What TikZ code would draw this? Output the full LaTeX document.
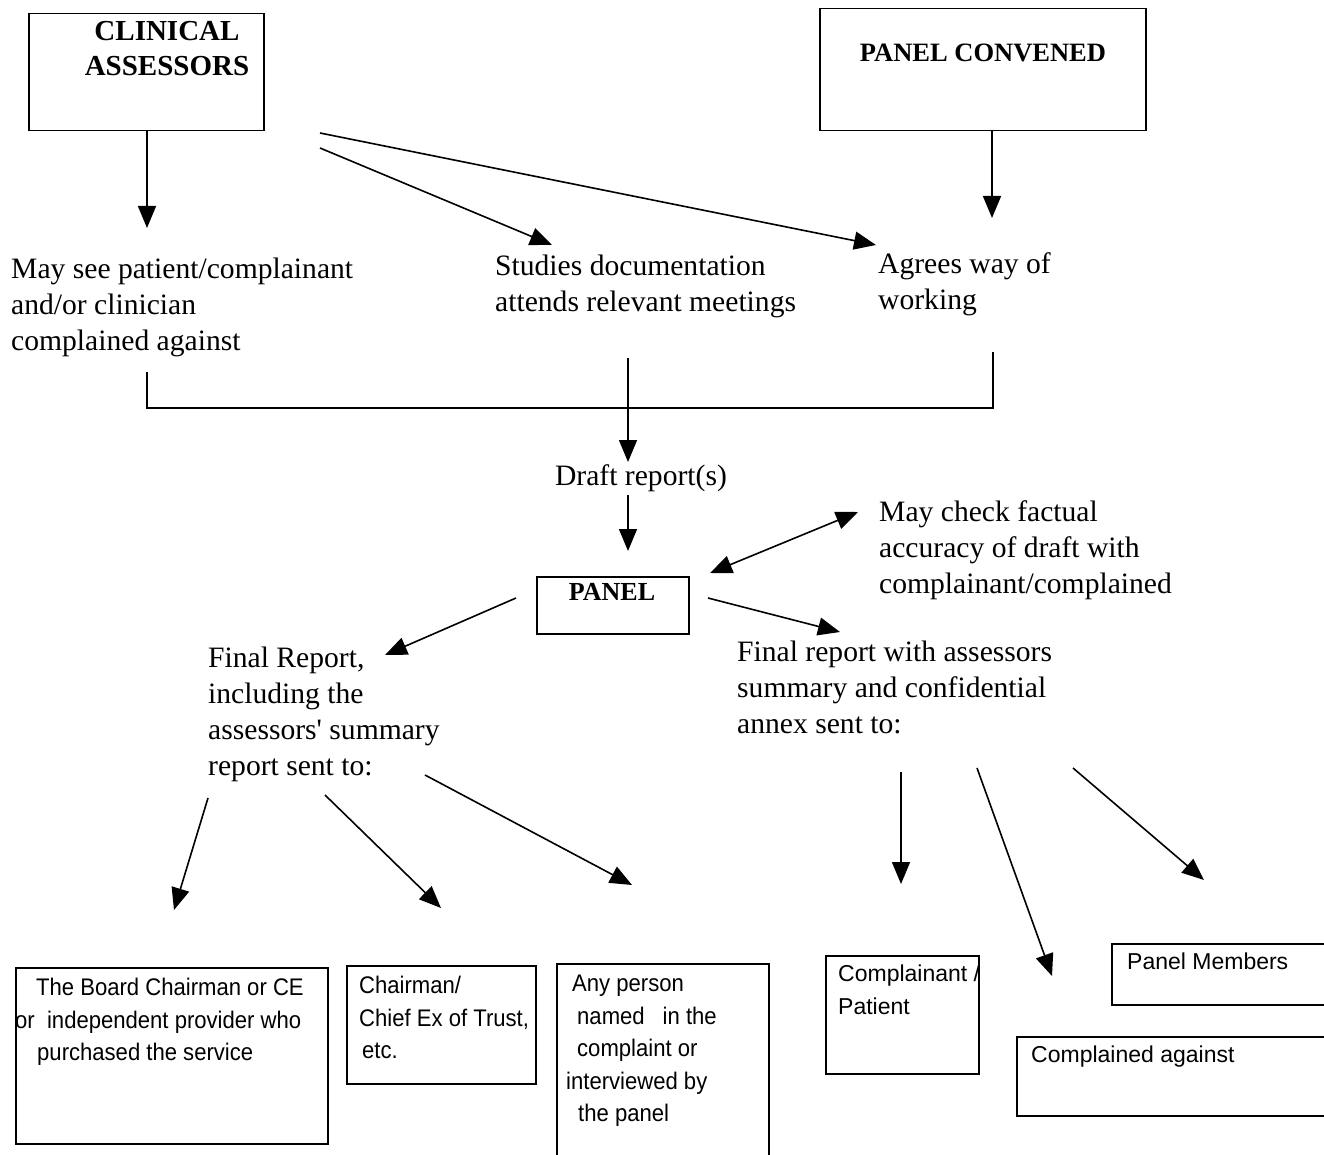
\documentclass[tikz,border=0pt]{standalone}
\usepackage{fontspec}
\setmainfont{Liberation Serif}
\newfontfamily\narrowsans[FakeStretch=0.92]{Liberation Sans}
\newfontfamily\plainsans{Liberation Sans}
\usetikzlibrary{arrows.meta,calc}

\begin{document}
\begin{tikzpicture}[x=1pt,y=-1pt,
  frame/.style={draw,line width=1.5pt,inner sep=0pt,anchor=north west},
  arr/.style={line width=1.6pt,-{Triangle[length=22pt,width=18pt]}},
  biarr/.style={line width=1.6pt,{Triangle[length=22pt,width=18pt]}-{Triangle[length=22pt,width=18pt]}},
  link/.style={line width=1.6pt},
  body/.style={font=\fontsize{29.6}{36}\selectfont,align=left,anchor=north west,inner sep=0pt},
  head/.style={font=\fontsize{29}{35}\bfseries\selectfont,align=center,anchor=north,inner sep=0pt},
  boxtext/.style={font=\narrowsans\fontsize{24}{32.5}\selectfont,align=left,anchor=north west,inner sep=0pt},
  boxtextb/.style={font=\plainsans\fontsize{23}{33}\selectfont,align=left,anchor=north west,inner sep=0pt}
]
\useasboundingbox (0,0) rectangle (1324,1155);

% ---- top boxes ----
\node[frame,minimum width=235pt,minimum height=117pt] (clin) at (28,13) {};
\node[head] (clintext) at (167,21) {CLINICAL\\ASSESSORS};
\node[frame,minimum width=326pt,minimum height=122pt] (conv) at (819,8) {};
\node[head,font=\fontsize{26.5}{30}\bfseries\selectfont] (convtext) at (983,44) {PANEL CONVENED};

% ---- first level of activities ----
\node[body] (see) at (11,258) {May see patient/complainant\\and/or clinician\\complained against};
\node[body] (study) at (495,255) {Studies documentation\\attends relevant meetings};
\node[body] (agree) at (878,252) {Agrees way of\\working};

\coordinate (clinA) at (147,130);
\coordinate (seeT) at (147,228);
\coordinate (clinB) at (320,148);
\coordinate (studyT) at (552,245);
\coordinate (clinC) at (320,133);
\coordinate (agreeT) at (876,245);
\coordinate (convA) at (992,130);
\coordinate (convT) at (992,218);

\draw[arr] (clinA) -- (seeT);
\draw[arr] (clinB) -- (studyT);
\draw[arr] (clinC) -- (agreeT);
\draw[arr] (convA) -- (convT);

% ---- merging bracket ----
\coordinate (seeB) at (147,372);
\coordinate (agreeB) at (993,352);
\draw[link] (seeB) -- (147,408) -- (993,408) -- (agreeB);

\coordinate (mergeS) at (628,358);
\coordinate (draftT) at (628,462);
\draw[arr] (mergeS) -- (draftT);

\node[body,anchor=north] (draft) at (641,464) {Draft report(s)};

% ---- panel ----
\node[frame,minimum width=152pt,minimum height=57pt] (panel) at (536,576) {};
\node[head,font=\fontsize{26}{30}\bfseries\selectfont] (paneltext) at (612,583) {PANEL};

\coordinate (draftB) at (628,495);
\coordinate (panelT) at (628,551);
\draw[arr] (draftB) -- (panelT);

\node[body] (check) at (879,500) {May check factual\\accuracy of draft with\\complainant/complained};
\coordinate (panelNE) at (710,573);
\coordinate (checkW) at (858,512);
\draw[biarr] (panelNE) -- (checkW);

% ---- final reports ----
\node[body] (finalL) at (208,647) {Final Report,\\including the\\assessors\textquotesingle\ summary\\report sent to:};
\node[body] (finalR) at (737,641) {Final report with assessors\\summary and confidential\\annex sent to:};

\coordinate (panelW) at (516,598);
\coordinate (finalLT) at (385,655);
\coordinate (panelE) at (708,598);
\coordinate (finalRT) at (840,632);
\draw[arr] (panelW) -- (finalLT);
\draw[arr] (panelE) -- (finalRT);

% ---- recipients of the final report ----
\node[frame,minimum width=312pt,minimum height=176pt] (board) at (15,967) {};
\node[boxtext] (boardtext) at (15,978) {\hspace*{21pt}The Board Chairman or CE\\or\ \ independent provider who\\\hspace*{22pt}purchased the service};

\node[frame,minimum width=189pt,minimum height=118pt] (chair) at (346,965) {};
\node[boxtext] (chairtext) at (359,976) {Chairman/\\Chief Ex of Trust,\\\hspace*{3pt}etc.};

\node[frame,minimum width=212pt,minimum height=200pt] (anyp) at (556,963) {};
\node[boxtext] (anyptext) at (566,975) {\hspace*{6pt}Any person\\\hspace*{11pt}named\hspace*{18pt}in the\\\hspace*{11pt}complaint or\\interviewed by\\\hspace*{12pt}the panel};

\node[frame,minimum width=153pt,minimum height=118pt] (compl) at (825,955) {};
\node[boxtextb] (compltext) at (838,965) {Complainant /\\Patient};

\node[frame,minimum width=230pt,minimum height=61pt] (pmem) at (1111,943) {};
\node[boxtextb] (pmemtext) at (1127,953) {Panel Members};

\node[frame,minimum width=320pt,minimum height=79pt] (cagainst) at (1016,1036) {};
\node[boxtextb] (cagainsttext) at (1031,1046) {Complained against};

\coordinate (fl1) at (208,798);
\coordinate (fl1T) at (174,910);
\coordinate (fl2) at (325,795);
\coordinate (fl2T) at (441,908);
\coordinate (fl3) at (425,775);
\coordinate (fl3T) at (632,885);
\draw[arr] (fl1) -- (fl1T);
\draw[arr] (fl2) -- (fl2T);
\draw[arr] (fl3) -- (fl3T);

\coordinate (fr1) at (901,772);
\coordinate (fr1T) at (901,884);
\coordinate (fr2) at (977,768);
\coordinate (fr2T) at (1052,976);
\coordinate (fr3) at (1073,768);
\coordinate (fr3T) at (1204,880);
\draw[arr] (fr1) -- (fr1T);
\draw[arr] (fr2) -- (fr2T);
\draw[arr] (fr3) -- (fr3T);
\end{tikzpicture}
\end{document}
